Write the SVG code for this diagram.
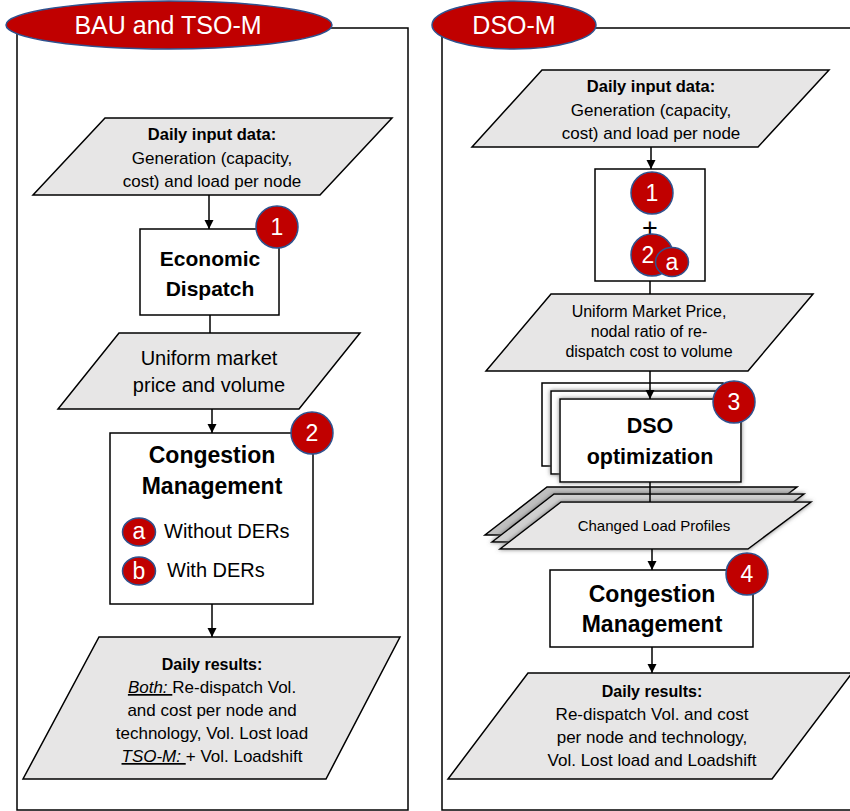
<svg xmlns="http://www.w3.org/2000/svg" width="850" height="811" viewBox="0 0 850 811">
<style>
.frame{fill:none;stroke:#000;stroke-width:1.5}
.hdr{fill:#C00000;stroke:#2F528F;stroke-width:1.5}
.hdrt{fill:#fff;font-family:"Liberation Sans",Arial,sans-serif;font-size:25px;text-anchor:middle}
.para{fill:#E7E6E6;stroke:#000;stroke-width:1.5}
.box{fill:#fff;stroke:#000;stroke-width:1.5}
.badge{fill:#C00000;stroke:#2F528F;stroke-width:1.5}
.bt{fill:#fff;font-family:"Liberation Sans",Arial,sans-serif;font-size:23px;text-anchor:middle}
.t{fill:#000;font-family:"Liberation Sans",Arial,sans-serif;text-anchor:middle}
.s{text-anchor:start}
.b{font-weight:bold}
.conn line{stroke:#000;stroke-width:1.5}
</style>
<defs>
<marker id="arr" viewBox="0 0 10 10" refX="10" refY="5" markerWidth="9" markerHeight="10" markerUnits="userSpaceOnUse" orient="auto">
<path d="M0,0 L10,5 L0,10 z" fill="#000"/>
</marker>
<filter id="sh" x="-10%" y="-20%" width="120%" height="140%">
<feDropShadow dx="0" dy="0" stdDeviation="2.2" flood-color="#6f6f6f" flood-opacity="0.9"/>
</filter>
</defs>

<g id="panel-left">
<rect class="frame" x="17" y="28" width="391" height="782"/>
<ellipse class="hdr" cx="169" cy="25" rx="163" ry="24"/>
<text class="hdrt" x="168" y="34">BAU and TSO-M</text>
</g>
<g id="panel-right">
<rect class="frame" x="442" y="28" width="420" height="782"/>
<ellipse class="hdr" cx="514" cy="25" rx="82" ry="24"/>
<text class="hdrt" x="514" y="34">DSO-M</text>
</g>

<g id="l-input">
<polygon class="para" points="105,118 392,118 320,195 33,195"/>
<text class="t b" x="212" y="140" font-size="16.5">Daily input data:</text>
<text class="t" x="212" y="164" font-size="17">Generation (capacity,</text>
<text class="t" x="212" y="187" font-size="17">cost) and load per node</text>
</g>

<g id="l-ed">
<rect class="box" x="140" y="229" width="139" height="86"/>
<text class="t b" x="210" y="266" font-size="21">Economic</text>
<text class="t b" x="210" y="296" font-size="21">Dispatch</text>
<circle class="badge" cx="277" cy="227" r="21"/>
<text class="bt" x="277" y="235">1</text>
</g>

<g id="l-uniform">
<polygon class="para" points="119,333 360,333 299,409 58,409"/>
<text class="t" x="209" y="365" font-size="20">Uniform market</text>
<text class="t" x="209" y="392" font-size="20">price and volume</text>
</g>

<g id="l-cm">
<rect class="box" x="110" y="433" width="203" height="171"/>
<text class="t b" x="212" y="463" font-size="23">Congestion</text>
<text class="t b" x="212" y="494" font-size="23">Management</text>
<circle class="badge" cx="312" cy="433" r="21"/>
<text class="bt" x="312" y="441">2</text>
<ellipse class="badge" cx="139" cy="532" rx="16.5" ry="14"/>
<text class="bt" x="139" y="539" font-size="22">a</text>
<text class="t s" x="164" y="538" font-size="20">Without DERs</text>
<ellipse class="badge" cx="139" cy="571" rx="16.5" ry="14"/>
<text class="bt" x="139" y="579" font-size="22">b</text>
<text class="t s" x="167" y="577" font-size="20">With DERs</text>
</g>

<g id="l-results">
<polygon class="para" points="99,637 400,637 326,779 23,779"/>
<text class="t b" x="212" y="670" font-size="16">Daily results:</text>
<text class="t" x="212" y="693" font-size="17"><tspan font-style="italic" text-decoration="underline">Both: </tspan>Re-dispatch Vol.</text>
<text class="t" x="212" y="716" font-size="17">and cost per node and</text>
<text class="t" x="212" y="739" font-size="17">technology, Vol. Lost load</text>
<text class="t" x="212" y="762" font-size="17"><tspan font-style="italic" text-decoration="underline">TSO-M: </tspan>+ Vol. Loadshift</text>
</g>

<g id="r-input">
<polygon class="para" points="542,70 829,70 758,147 472,147"/>
<text class="t b" x="651" y="92" font-size="16.5">Daily input data:</text>
<text class="t" x="651" y="116" font-size="17">Generation (capacity,</text>
<text class="t" x="651" y="139" font-size="17">cost) and load per node</text>
</g>

<g id="r-combo">
<rect class="box" x="595" y="169" width="110" height="112"/>
<circle class="badge" cx="652" cy="193" r="21"/>
<text class="bt" x="652" y="201">1</text>
<text class="t" x="650" y="237" font-size="27">+</text>
<circle class="badge" cx="652" cy="255" r="21"/>
<text class="bt" x="648" y="263">2</text>
<ellipse class="badge" cx="672" cy="262" rx="16.5" ry="14.5"/>
<text class="bt" x="672" y="270" font-size="22">a</text>
</g>

<g id="r-uniform">
<polygon class="para" points="551,294 813,294 748,371 486,371"/>
<text class="t" x="649" y="317" font-size="16">Uniform Market Price,</text>
<text class="t" x="649" y="337" font-size="16">nodal ratio of re-</text>
<text class="t" x="649" y="357" font-size="16">dispatch cost to volume</text>
</g>

<g id="r-dso">
<rect class="box" x="542" y="383" width="181" height="83"/>
<rect class="box" x="551" y="391" width="181" height="83" filter="url(#sh)"/>
<rect class="box" x="560" y="399" width="181" height="83" filter="url(#sh)"/>
<text class="t b" x="650" y="433" font-size="21.5">DSO</text>
<text class="t b" x="650" y="464" font-size="21.5">optimization</text>
<circle class="badge" cx="734" cy="402" r="21"/>
<text class="bt" x="734" y="410">3</text>
</g>

<g id="r-changed">
<polygon class="para" points="547,487 797,487 734,535 485,535" style="fill:#BFBFBF"/>
<polygon class="para" points="554,494 804,494 741,542 492,542" style="fill:#D0D0D0" filter="url(#sh)"/>
<polygon class="para" points="561,502 811,502 748,549 500,549" filter="url(#sh)"/>
<text class="t" x="654" y="531" font-size="15" fill="#262626">Changed Load Profiles</text>
</g>

<g id="r-cm">
<rect class="box" x="550" y="570" width="203" height="77"/>
<text class="t b" x="652" y="602" font-size="23">Congestion</text>
<text class="t b" x="652" y="632" font-size="23">Management</text>
<circle class="badge" cx="747" cy="574" r="21"/>
<text class="bt" x="747" y="582">4</text>
</g>

<g id="r-results">
<polygon class="para" points="528,673 852,673 772,779 448,779"/>
<text class="t b" x="652" y="697" font-size="16">Daily results:</text>
<text class="t" x="652" y="720" font-size="17">Re-dispatch Vol. and cost</text>
<text class="t" x="652" y="743" font-size="17">per node and technology,</text>
<text class="t" x="652" y="766" font-size="17">Vol. Lost load and Loadshift</text>
</g>

<g id="connectors" class="conn">
<line x1="209" y1="195" x2="209" y2="229" marker-end="url(#arr)"/>
<line x1="210" y1="315" x2="210" y2="333"/>
<line x1="212" y1="409" x2="212" y2="433" marker-end="url(#arr)"/>
<line x1="212" y1="604" x2="212" y2="637" marker-end="url(#arr)"/>
<line x1="651" y1="147" x2="651" y2="169" marker-end="url(#arr)"/>
<line x1="650" y1="281" x2="650" y2="294"/>
<line x1="650" y1="371" x2="650" y2="399" marker-end="url(#arr)"/>
<line x1="650" y1="482" x2="650" y2="502"/>
<line x1="652" y1="549" x2="652" y2="570" marker-end="url(#arr)"/>
<line x1="652" y1="647" x2="652" y2="673" marker-end="url(#arr)"/>
</g>
</svg>
